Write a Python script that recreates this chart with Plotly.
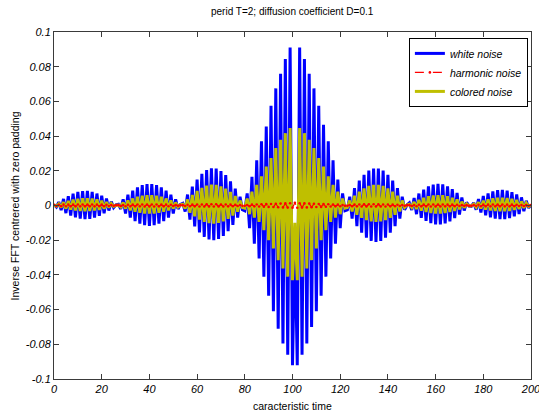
import plotly.graph_objects as go

# sample index (characteristic time)
time = list(range(0, 201))

# inverse FFT of the white-noise spectrum
white_noise = [
    # 0-26
    0.0004, -0.0009, 0.0020, -0.0027, 0.0038, -0.0044, 0.0054, -0.0058, 0.0068, -0.0069,
    0.0078, -0.0076, 0.0083, -0.0079, 0.0084, -0.0077, 0.0079, -0.0070, 0.0069, -0.0059,
    0.0056, -0.0045, 0.0040, -0.0029, 0.0022, -0.0012, 0.0004,
    # 27-53
    0.0007, -0.0020, 0.0036, -0.0046, 0.0063, -0.0070, 0.0086, -0.0090, 0.0104, -0.0105,
    0.0118, -0.0114, 0.0124, -0.0117, 0.0124, -0.0114, 0.0118, -0.0105, 0.0104, -0.0090,
    0.0086, -0.0070, 0.0063, -0.0046, 0.0036, -0.0020, 0.0007,
    # 54-79
    0.0013, -0.0035, 0.0063, -0.0081, 0.0109, -0.0121, 0.0150, -0.0155, 0.0182, -0.0181,
    0.0204, -0.0196, 0.0214, -0.0200, 0.0213, -0.0193, 0.0199, -0.0175, 0.0175, -0.0148,
    0.0140, -0.0112, 0.0098, -0.0070, 0.0051, -0.0024,
    # 80-122
    -0.0030, 0.0070, -0.0130, 0.0165, -0.0220, 0.0260, -0.0305, 0.0370, -0.0410, 0.0455,
    -0.0520, 0.0575, -0.0610, 0.0675, -0.0710, 0.0760, -0.0795, 0.0845, -0.0860, 0.0910,
    -0.0920, -0.0180, -0.0920, 0.0910, -0.0860, 0.0845, -0.0795, 0.0760, -0.0700, 0.0675,
    -0.0610, 0.0575, -0.0520, 0.0465, -0.0410, 0.0370, -0.0305, 0.0260, -0.0220, 0.0150,
    -0.0130, 0.0070, -0.0030,
    # 123-148
    -0.0025, 0.0051, -0.0075, 0.0100, -0.0119, 0.0143, -0.0157, 0.0177, -0.0186, 0.0201,
    -0.0204, 0.0213, -0.0210, 0.0213, -0.0204, 0.0201, -0.0186, 0.0177, -0.0157, 0.0143,
    -0.0119, 0.0100, -0.0075, 0.0051, -0.0025, 0.0003,
    # 149-174
    0.0015, -0.0026, 0.0043, -0.0050, 0.0069, -0.0071, 0.0092, -0.0089, 0.0110, -0.0102,
    0.0121, -0.0109, 0.0125, -0.0109, 0.0122, -0.0103, 0.0111, -0.0091, 0.0094, -0.0073,
    0.0072, -0.0052, 0.0046, -0.0029, 0.0018, -0.0003,
    # 175-200
    -0.0005, 0.0016, -0.0024, 0.0037, -0.0041, 0.0055, -0.0056, 0.0070, -0.0068, 0.0081,
    -0.0075, 0.0088, -0.0079, 0.0090, -0.0079, 0.0086, -0.0073, 0.0077, -0.0063, 0.0064,
    -0.0049, 0.0047, -0.0033, 0.0027, -0.0014, 0.0005,
]

# inverse FFT of the harmonic-noise spectrum
harmonic_noise = [
    0.0004, -0.0003, 0.0004, -0.0004, 0.0005, -0.0004, 0.0005, -0.0005, 0.0005, -0.0005,
    0.0006, -0.0005, 0.0006, -0.0005, 0.0006, -0.0005, 0.0006, -0.0005, 0.0005, -0.0004,
    0.0005, -0.0004, 0.0004, -0.0003, 0.0003, -0.0002, 0.0002, 0.0002, -0.0003, 0.0003,
    -0.0004, 0.0004, -0.0005, 0.0005, -0.0005, 0.0006, -0.0005, 0.0006, -0.0006, 0.0006,
    -0.0006, 0.0006, -0.0006, 0.0006, -0.0005, 0.0005, -0.0005, 0.0005, -0.0004, 0.0004,
    -0.0003, 0.0003, -0.0002, 0.0002, 0.0002, -0.0003, 0.0004, -0.0004, 0.0005, -0.0005,
    0.0006, -0.0006, 0.0006, -0.0006, 0.0007, -0.0006, 0.0007, -0.0006, 0.0007, -0.0006,
    0.0006, -0.0006, 0.0006, -0.0005, 0.0005, -0.0004, 0.0004, -0.0003, 0.0003, -0.0002,
    -0.0002, 0.0003, -0.0004, 0.0005, -0.0005, 0.0006, -0.0006, 0.0007, -0.0007, 0.0008,
    -0.0008, 0.0009, -0.0009, 0.0010, -0.0010, 0.0011, -0.0011, 0.0012, -0.0012, 0.0013,
    -0.0013, 0.0016, -0.0013, 0.0013, -0.0012, 0.0012, -0.0011, 0.0011, -0.0010, 0.0010,
    -0.0009, 0.0009, -0.0008, 0.0008, -0.0007, 0.0007, -0.0006, 0.0006, -0.0005, 0.0005,
    -0.0004, 0.0003, -0.0002, -0.0002, 0.0003, -0.0004, 0.0005, -0.0005, 0.0006, -0.0006,
    0.0007, -0.0006, 0.0007, -0.0006, 0.0007, -0.0006, 0.0007, -0.0006, 0.0006, -0.0006,
    0.0006, -0.0005, 0.0005, -0.0004, 0.0004, -0.0003, 0.0003, -0.0002, 0.0002, 0.0002,
    -0.0003, 0.0003, -0.0004, 0.0004, -0.0005, 0.0005, -0.0005, 0.0006, -0.0006, 0.0006,
    -0.0006, 0.0006, -0.0006, 0.0006, -0.0005, 0.0005, -0.0005, 0.0005, -0.0004, 0.0004,
    -0.0003, 0.0003, -0.0002, 0.0002, -0.0002, -0.0002, 0.0003, -0.0003, 0.0004, -0.0004,
    0.0005, -0.0005, 0.0005, -0.0005, 0.0006, -0.0005, 0.0006, -0.0005, 0.0006, -0.0005,
    0.0005, -0.0005, 0.0005, -0.0004, 0.0004, -0.0003, 0.0003, -0.0003, 0.0002, -0.0002,
    0.0002,
]

# inverse FFT of the colored-noise spectrum
colored_noise = [
    # 0-26
    0.0002, -0.0004, 0.0010, -0.0011, 0.0019, -0.0018, 0.0027, -0.0024, 0.0034, -0.0029,
    0.0039, -0.0032, 0.0041, -0.0033, 0.0042, -0.0032, 0.0040, -0.0029, 0.0035, -0.0025,
    0.0028, -0.0019, 0.0020, -0.0012, 0.0011, -0.0005, 0.0002,
    # 27-53
    0.0003, -0.0008, 0.0017, -0.0018, 0.0030, -0.0028, 0.0041, -0.0036, 0.0050, -0.0042,
    0.0057, -0.0046, 0.0060, -0.0047, 0.0060, -0.0046, 0.0057, -0.0042, 0.0050, -0.0036,
    0.0041, -0.0028, 0.0030, -0.0018, 0.0017, -0.0008, 0.0003,
    # 54-79
    0.0007, -0.0018, 0.0035, -0.0042, 0.0061, -0.0063, 0.0084, -0.0081, 0.0102, -0.0094,
    0.0114, -0.0102, 0.0120, -0.0104, 0.0119, -0.0100, 0.0111, -0.0091, 0.0098, -0.0077,
    0.0078, -0.0058, 0.0055, -0.0036, 0.0029, -0.0012,
    # 80-122
    -0.0015, 0.0040, -0.0050, 0.0080, -0.0070, 0.0119, -0.0095, 0.0168, -0.0142, 0.0225,
    -0.0200, 0.0273, -0.0247, 0.0331, -0.0315, 0.0379, -0.0363, 0.0417, -0.0410, 0.0446,
    -0.0430, -0.0100, -0.0430, 0.0446, -0.0410, 0.0417, -0.0363, 0.0379, -0.0315, 0.0331,
    -0.0247, 0.0273, -0.0200, 0.0225, -0.0142, 0.0168, -0.0095, 0.0119, -0.0070, 0.0080,
    -0.0050, 0.0040, -0.0015,
    # 123-148
    -0.0011, 0.0029, -0.0034, 0.0056, -0.0054, 0.0080, -0.0071, 0.0099, -0.0084, 0.0113,
    -0.0092, 0.0119, -0.0095, 0.0119, -0.0092, 0.0113, -0.0084, 0.0099, -0.0071, 0.0080,
    -0.0054, 0.0056, -0.0034, 0.0029, -0.0011, 0.0002,
    # 149-174
    0.0007, -0.0011, 0.0021, -0.0021, 0.0033, -0.0030, 0.0044, -0.0037, 0.0053, -0.0043,
    0.0058, -0.0046, 0.0060, -0.0046, 0.0059, -0.0043, 0.0053, -0.0038, 0.0045, -0.0031,
    0.0035, -0.0022, 0.0022, -0.0012, 0.0009, -0.0001,
    # 175-200
    -0.0002, 0.0008, -0.0010, 0.0019, -0.0017, 0.0028, -0.0024, 0.0035, -0.0029, 0.0041,
    -0.0032, 0.0044, -0.0033, 0.0045, -0.0033, 0.0043, -0.0031, 0.0039, -0.0026, 0.0032,
    -0.0021, 0.0024, -0.0014, 0.0014, -0.0006, 0.0003,
]

x_ticks = [0, 20, 40, 60, 80, 100, 120, 140, 160, 180, 200]
y_ticks = [-0.1, -0.08, -0.06, -0.04, -0.02, 0, 0.02, 0.04, 0.06, 0.08, 0.1]
y_tick_labels = ["-0.1", "-0.08", "-0.06", "-0.04", "-0.02", "0",
                 "0.02", "0.04", "0.06", "0.08", "0.1"]

FONT = "Liberation Sans, Arial, sans-serif"
AXIS_COLOR = "#3a3a3a"

fig = go.Figure()
fig.add_trace(go.Scatter(
    x=time, y=white_noise, mode="lines", name="white noise",
    line=dict(color="#0000ff", width=3), legendrank=1,
))
fig.add_trace(go.Scatter(
    x=time, y=colored_noise, mode="lines", name="colored noise",
    line=dict(color="#bfbf00", width=3), legendrank=3,
))
fig.add_trace(go.Scatter(
    x=time, y=harmonic_noise, mode="lines+markers", name="harmonic noise",
    line=dict(color="#ff0000", width=1.2, dash="dash"),
    marker=dict(color="#ff0000", size=2.6), legendrank=2,
))

axis_common = dict(
    showgrid=False, zeroline=False, showline=True, linecolor=AXIS_COLOR,
    linewidth=1, mirror="allticks", ticks="inside", ticklen=5,
    tickcolor=AXIS_COLOR, tickwidth=1, ticklabeloverflow="allow",
    automargin=False,
    tickfont=dict(family=FONT, size=11, color="#000000", style="italic"),
)

fig.update_layout(
    width=539, height=414,
    margin=dict(l=54, r=8, t=32, b=35),
    paper_bgcolor="#ffffff", plot_bgcolor="#ffffff",
    showlegend=True,
    legend=dict(
        x=0.744, y=0.983, xanchor="left", yanchor="top",
        bgcolor="#ffffff", bordercolor="#000000", borderwidth=1,
        font=dict(family=FONT, size=10.5, color="#000000", style="italic"),
        itemwidth=30, tracegroupgap=0,
    ),
    xaxis=dict(range=[0, 200], tickvals=x_ticks, **axis_common),
    yaxis=dict(range=[-0.1, 0.1], tickvals=y_ticks, ticktext=y_tick_labels,
               **axis_common),
    annotations=[
        dict(text="perid T=2; diffusion coefficient D=0.1", xref="paper",
             yref="paper", x=0.5, y=1.058, xanchor="center", yanchor="middle",
             showarrow=False, font=dict(family=FONT, size=10, color="#000000")),
        dict(text="caracteristic time", xref="paper", yref="paper",
             x=0.5, y=-0.078, xanchor="center", yanchor="middle",
             showarrow=False, font=dict(family=FONT, size=10.5, color="#000000")),
        dict(text="Inverse FFT centrered with zero padding", xref="paper",
             yref="paper", x=-0.082, y=0.5, xanchor="center", yanchor="middle",
             textangle=-90, showarrow=False,
             font=dict(family=FONT, size=10.5, color="#000000")),
    ],
)

fig.write_html("out.html")
